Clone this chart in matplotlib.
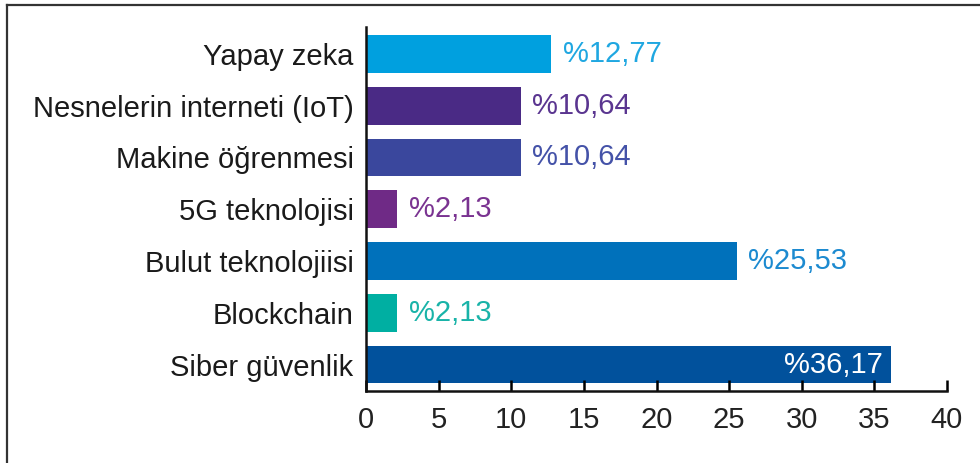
import matplotlib.pyplot as plt
from matplotlib.lines import Line2D

categories = ['Yapay zeka', 'Nesnelerin interneti (IoT)', 'Makine öğrenmesi',
              '5G teknolojisi', 'Bulut teknolojiisi', 'Blockchain', 'Siber güvenlik']
values = [12.77, 10.64, 10.64, 2.13, 25.53, 2.13, 36.17]
value_labels = ['%12,77', '%10,64', '%10,64', '%2,13', '%25,53', '%2,13', '%36,17']
bar_colors = ['#00a0df', '#4a2a85', '#3a479d', '#6f2a86', '#0071bb', '#00afa2', '#01519c']
label_colors = ['#1fa7e1', '#5a3590', '#4452a8', '#7a3391', '#1c8ad0', '#19b3a8', 'white']
x_ticks = [0, 5, 10, 15, 20, 25, 30, 35, 40]

plt.rcParams['font.family'] = ['Liberation Sans', 'DejaVu Sans']


def main():
    fig = plt.figure(figsize=(9.8, 4.63), dpi=100)
    ax = fig.add_axes([0.3735, 0.1555, 0.5928, 0.7862])

    n = len(categories)
    ys = [n - 1 - i for i in range(n)]
    ax.barh(ys, values, height=0.73, color=bar_colors)

    for y, v, lab, c in zip(ys, values, value_labels, label_colors):
        if c == 'white':
            ax.text(v - 0.6, y, lab, color=c, fontsize=21, va='center', ha='right')
        else:
            ax.text(v + 0.8, y, lab, color=c, fontsize=21, va='center', ha='left')

    ax.set_yticks(ys)
    ax.set_yticklabels(categories, fontsize=21, color='#1a1a1a')
    ax.tick_params(axis='y', length=0, pad=9)

    ax.set_xlim(0, 40)
    ax.set_ylim(-0.51, n - 1 + 0.52)
    ax.set_xticks(x_ticks)
    ax.tick_params(axis='x', direction='in', length=8, width=1.8, labelsize=21,
                   labelcolor='#222222', pad=11)

    ax.spines['top'].set_visible(False)
    ax.spines['right'].set_visible(False)
    for s in ('left', 'bottom'):
        ax.spines[s].set_linewidth(1.8)
        ax.spines[s].set_color('#111111')

    # outer frame (top and left edges of the screenshot)
    fig.add_artist(Line2D([0.007, 1.0], [0.989, 0.989], transform=fig.transFigure,
                          color='#333333', linewidth=1.6))
    fig.add_artist(Line2D([0.007, 0.007], [0.0, 0.989], transform=fig.transFigure,
                          color='#333333', linewidth=1.6))

    fig.savefig('out.png', dpi=100)


if __name__ == '__main__':
    main()
